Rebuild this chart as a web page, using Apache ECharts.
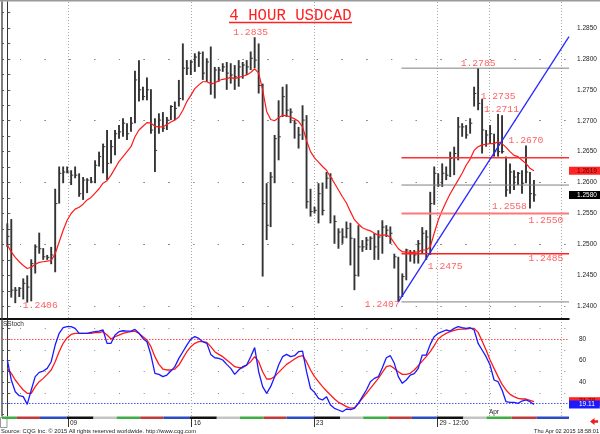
<!DOCTYPE html>
<html><head><meta charset="utf-8">
<script src="https://cdn.jsdelivr.net/npm/echarts@6.0.0/dist/echarts.min.js"></script>
<style>html,body{margin:0;padding:0;background:#fff}#c{width:600px;height:434px}</style>
</head><body><div id="c"></div>
<script>
// ---- data (4-hour bars, index 0 = first bar) ----
const highs = [1.2534,1.2541,1.2431,1.2431,1.2445,1.2450,1.2476,1.2500,1.2519,1.2494,1.2483,1.2496,1.2590,1.2626,1.2626,1.2626,1.2620,1.2626,1.2615,1.2609,1.2607,1.2609,1.2636,1.2650,1.2663,1.2685,1.2669,1.2685,1.2693,1.2704,1.2696,1.2706,1.2781,1.2798,1.2755,1.2770,1.2751,1.2704,1.2712,1.2714,1.2706,1.2725,1.2731,1.2766,1.2825,1.2798,1.2798,1.2809,1.2812,1.2812,1.2801,1.2820,1.2787,1.2787,1.2793,1.2795,1.2793,1.2790,1.2798,1.2795,1.2798,1.2812,1.2835,1.2825,1.2760,1.2599,1.2617,1.2677,1.2733,1.2755,1.2759,1.2720,1.2701,1.2690,1.2725,1.2709,1.2590,1.2561,1.2599,1.2600,1.2617,1.2615,1.2547,1.2526,1.2526,1.2537,1.2535,1.2510,1.2531,1.2507,1.2512,1.2513,1.2518,1.2523,1.2539,1.2531,1.2529,1.2485,1.2480,1.2453,1.2493,1.2491,1.2491,1.2507,1.2528,1.2523,1.2585,1.2626,1.2615,1.2631,1.2626,1.2650,1.2658,1.2706,1.2696,1.2693,1.2704,1.2755,1.2785,1.2735,1.2685,1.2693,1.2679,1.2711,1.2709,1.2642,1.2631,1.2620,1.2617,1.2620,1.2660,1.2617,1.2604];
const lows = [1.2496,1.2414,1.2405,1.2415,1.2411,1.2406,1.2408,1.2453,1.2485,1.2475,1.2475,1.2468,1.2455,1.2566,1.2599,1.2615,1.2596,1.2607,1.2577,1.2572,1.2583,1.2599,1.2599,1.2626,1.2615,1.2604,1.2631,1.2644,1.2671,1.2674,1.2669,1.2682,1.2696,1.2731,1.2733,1.2733,1.2679,1.2617,1.2679,1.2682,1.2685,1.2701,1.2701,1.2723,1.2733,1.2774,1.2774,1.2779,1.2787,1.2766,1.2763,1.2742,1.2736,1.2763,1.2779,1.2750,1.2760,1.2750,1.2755,1.2768,1.2774,1.2782,1.2785,1.2744,1.2448,1.2507,1.2528,1.2599,1.2636,1.2706,1.2706,1.2696,1.2671,1.2655,1.2669,1.2558,1.2545,1.2550,1.2534,1.2547,1.2590,1.2534,1.2501,1.2493,1.2501,1.2510,1.2466,1.2426,1.2448,1.2488,1.2491,1.2491,1.2475,1.2475,1.2485,1.2512,1.2501,1.2461,1.2407,1.2415,1.2442,1.2472,1.2469,1.2469,1.2485,1.2475,1.2483,1.2564,1.2593,1.2593,1.2604,1.2609,1.2612,1.2636,1.2674,1.2671,1.2679,1.2723,1.2717,1.2647,1.2658,1.2663,1.2642,1.2642,1.2647,1.2577,1.2582,1.2588,1.2596,1.2582,1.2599,1.2558,1.2569];
const closes = [1.2513,1.2426,1.2426,1.2429,1.2437,1.2431,1.2469,1.2496,1.2493,1.2480,1.2479,1.2483,1.2566,1.2615,1.2617,1.2617,1.2612,1.2612,1.2582,1.2604,1.2604,1.2601,1.2628,1.2642,1.2658,1.2631,1.2658,1.2679,1.2682,1.2696,1.2679,1.2696,1.2766,1.2750,1.2739,1.2750,1.2685,1.2652,1.2701,1.2688,1.2701,1.2723,1.2720,1.2736,1.2785,1.2785,1.2795,1.2803,1.2809,1.2777,1.2795,1.2760,1.2782,1.2782,1.2787,1.2777,1.2774,1.2771,1.2787,1.2790,1.2787,1.2801,1.2798,1.2757,1.2566,1.2531,1.2609,1.2671,1.2674,1.2739,1.2717,1.2714,1.2696,1.2677,1.2701,1.2569,1.2553,1.2555,1.2582,1.2555,1.2607,1.2607,1.2537,1.2520,1.2512,1.2526,1.2510,1.2450,1.2496,1.2496,1.2507,1.2510,1.2496,1.2512,1.2528,1.2523,1.2518,1.2480,1.2415,1.2448,1.2491,1.2485,1.2483,1.2501,1.2518,1.2512,1.2566,1.2615,1.2596,1.2615,1.2612,1.2639,1.2647,1.2690,1.2690,1.2677,1.2696,1.2744,1.2728,1.2685,1.2677,1.2679,1.2650,1.2650,1.2650,1.2588,1.2617,1.2609,1.2615,1.2599,1.2617,1.2582,1.2580];
const movingAvg = [1.2499,1.2488,1.2479,1.2472,1.2466,1.2461,1.2463,1.2468,1.2471,1.2472,1.2473,1.2474,1.2485,1.2504,1.2523,1.2539,1.2550,1.2557,1.2560,1.2565,1.2572,1.2576,1.2583,1.2590,1.2599,1.2603,1.2612,1.2623,1.2634,1.2642,1.2650,1.2658,1.2674,1.2685,1.2691,1.2697,1.2696,1.2691,1.2690,1.2690,1.2694,1.2698,1.2701,1.2706,1.2717,1.2731,1.2741,1.2752,1.2758,1.2763,1.2763,1.2760,1.2761,1.2765,1.2767,1.2768,1.2770,1.2768,1.2770,1.2772,1.2774,1.2778,1.2784,1.2777,1.2750,1.2715,1.2702,1.2700,1.2705,1.2709,1.2708,1.2706,1.2703,1.2699,1.2690,1.2668,1.2650,1.2640,1.2633,1.2626,1.2620,1.2609,1.2599,1.2588,1.2577,1.2567,1.2553,1.2540,1.2533,1.2527,1.2524,1.2522,1.2518,1.2515,1.2515,1.2515,1.2512,1.2502,1.2493,1.2488,1.2488,1.2487,1.2487,1.2488,1.2491,1.2491,1.2496,1.2518,1.2539,1.2555,1.2569,1.2582,1.2593,1.2604,1.2615,1.2628,1.2638,1.2652,1.2658,1.2661,1.2662,1.2663,1.2663,1.2666,1.2663,1.2657,1.2650,1.2644,1.2642,1.2636,1.2631,1.2623,1.2619];
const stochK = [60.5,41.9,31.0,27.3,26.4,19.2,32.6,45.0,49.0,50.2,52.7,58.9,74.4,85.3,90.5,91.5,91.5,89.9,85.3,85.3,85.3,86.2,86.8,87.4,88.4,76.0,76.0,83.7,86.8,87.7,87.4,87.4,89.0,85.3,80.6,77.5,65.1,48.1,47.1,45.0,46.5,50.2,54.3,62.0,68.2,74.4,80.0,82.2,80.6,77.5,76.0,65.7,62.6,62.0,60.5,56.4,52.7,47.1,51.2,54.3,55.8,63.6,72.0,49.6,35.7,29.5,35.7,45.0,55.8,63.6,65.7,63.6,64.5,68.2,68.8,49.6,34.0,30.4,24.8,23.3,26.4,18.6,15.5,14.0,12.4,14.9,14.3,15.5,20.2,26.4,32.6,40.3,43.4,45.0,53.3,62.6,64.5,57.4,45.0,38.8,41.9,46.5,47.8,52.7,65.1,65.1,75.0,82.2,85.3,86.8,88.4,87.4,89.9,91.5,90.5,89.9,90.5,88.4,76.0,69.8,63.6,55.8,41.9,40.3,32.6,21.7,21.1,21.1,20.2,22.3,23.3,21.7,19.11];
const stochD = [52.7,48.1,41.9,37.2,32.6,29.5,29.5,35.7,40.3,43.4,47.1,51.2,58.9,68.2,76.0,81.2,84.3,85.3,85.3,85.3,85.3,85.3,85.9,85.9,86.8,83.7,80.0,82.2,83.7,85.3,86.2,86.8,87.4,85.3,82.2,79.1,72.9,63.6,56.4,52.1,51.2,51.2,52.1,55.8,62.0,68.2,72.9,76.0,77.5,77.5,76.9,72.9,68.2,65.7,63.6,60.5,57.4,54.3,53.3,53.3,55.8,58.9,63.6,58.9,49.6,42.8,42.8,45.0,49.0,52.7,56.4,58.9,61.4,63.6,64.5,58.9,51.2,45.0,40.3,35.7,31.6,27.9,24.2,21.1,19.2,17.1,15.8,16.1,20.2,24.8,29.5,34.1,38.8,43.4,49.0,54.3,55.2,52.7,49.6,47.1,47.1,48.1,51.2,55.2,59.5,63.6,68.2,73.8,80.0,83.1,85.3,86.8,88.1,89.0,89.3,89.3,89.9,89.9,86.2,78.1,69.8,60.5,52.7,45.0,37.8,32.6,28.5,26.4,24.8,24.2,24.2,23.0,21.7];

// support / resistance levels, drawn from the 1.2407 low to the right edge
const levelValues = [1.2785, 1.2640, 1.2596, 1.2550, 1.2485, 1.2407];
const levelStartIdx = 98.8;
// blue trend line: anchor points (bar index, price)
const trendIdx = [98, 140.78];
const trendVal = [1.2407, 1.2836];

// price annotations
const annoTexts = ['1.2835','1.2406','1.2407','1.2785','1.2735','1.2711','1.2670','1.2558','1.2550','1.2485','1.2475'];
const annoIdx   = [62, 5, 98, 118, 119, 123, 130, 131, 135, 135, 105];
const annoVals  = [1.2835, 1.2406, 1.2407, 1.2785, 1.2735, 1.2711, 1.2670, 1.2558, 1.2550, 1.2485, 1.2475];

// axis ticks
const priceTicks = [1.2400,1.2450,1.2500,1.2550,1.2600,1.2650,1.2700,1.2750,1.2800,1.2850];
const priceGridLevels = [1.2400,1.2425,1.2450,1.2475,1.2500,1.2525,1.2550,1.2575,1.2600,1.2625,1.2650,1.2675,1.2700,1.2725,1.2750,1.2775,1.2800,1.2825,1.2850,1.2875];
const stochTicks = [40, 60, 80];
const stochGridLevels = [30, 50, 70, 90];
const weekLineIdx = [15.2, 46.2, 76.9, 107.8, 120.7, 138.9];
const dateTickIdx = [15.2, 46.2, 76.9, 107.8];
const dateTickLabels = ['09', '16', '23', '29 - 12:00'];
const monthTickIdx = [120.7];
const monthTickLabels = ['Apr'];
// session colour strip (start index, end index, weekday code)
const stripStart = [-1.33,2.4,8.2,14.9,21.6,27.4,33.3,39.1,45.8,52.5,58.3,64.2,70.0,76.7,83.4,89.2,95.5,101.4,107.6,114.3,120.1,126.4,132.7];
const stripEnd   = [2.4,8.2,14.9,21.6,27.4,33.3,39.1,45.8,52.5,58.3,64.2,70.0,76.7,83.4,89.2,95.5,101.4,107.6,114.3,120.1,126.4,132.7,140.78];
const stripDay   = [0,1,2,3,4,0,1,2,3,4,0,1,2,3,4,0,1,2,3,4,0,1,2];

// ---- styles ----
const XMIN = -1.328, XMAX = 140.78;
const levelStyles = [
  {color:'#808080', width:1}, {color:'#ff3030', width:1.5}, {color:'#808080', width:1},
  {color:'#ff7878', width:2}, {color:'#ff2020', width:1.5}, {color:'#808080', width:1}
];
const annoOffsets = [[-4,-4.5],[13,2.5],[-16,3],[0,-5],[16,-3],[3.5,-4.3],[0,0.7],[-20.5,-2],[0,7],[0,5],[19,6.6]];
const stripPalette = ['#3cae45', '#c33a3a', '#2a4cc8', '#111111', '#c4c4c4'];
const LAB = {fontFamily:'Liberation Sans', fontSize:6.5, color:'#222'};

const lastClose = closes[closes.length-1];
const lastMA = movingAvg[movingAvg.length-1];
const lastK = stochK[stochK.length-1];
const lastD = stochD[stochD.length-1];

function near(a,b){return Math.abs(a-b) < 1e-7;}

const chart = echarts.init(document.getElementById('c'), null, {renderer:'canvas'});

function renderBar(params, api){
  const i = api.value(0);
  const top = api.coord([i, api.value(1)]);
  const bot = api.coord([i, api.value(2)]);
  const cl = api.coord([i, api.value(3)]);
  return {type:'group', children:[
    {type:'line', shape:{x1:top[0], y1:top[1], x2:bot[0], y2:bot[1]}, style:{stroke:'#343434', lineWidth:1.9}},
    {type:'line', shape:{x1:cl[0], y1:cl[1], x2:cl[0]+2.2, y2:cl[1]}, style:{stroke:'#343434', lineWidth:1}}
  ]};
}
function renderStrip(params, api){
  const a = api.coord([api.value(0), 1]);
  const b = api.coord([api.value(1), 0]);
  return {type:'rect', shape:{x:a[0], y:a[1], width:b[0]-a[0], height:b[1]-a[1]}, style:{fill: stripPalette[stripDay[params.dataIndex]]}};
}

const hidden = {axisLine:{show:false}, axisTick:{show:false}, axisLabel:{show:false}, splitLine:{show:false}};

const series = [];
series.push({
  type:'line', xAxisIndex:0, yAxisIndex:0, data:movingAvg.map((v,i)=>[i,v]), showSymbol:false, z:3,
  lineStyle:{color:'#ff1a1a', width:1.2}, silent:true,
  markLine:{symbol:'none', silent:true, z:1, label:{show:false}, animation:false,
    data: priceGridLevels.map(v=>({yAxis:v, lineStyle:{color:'#8a8a8a', width:1, type:[1,23.74], dashOffset:6.74}}))
      .concat(weekLineIdx.map(v=>({xAxis:v, lineStyle:{color:'#a8a8a8', width:1, type:[1,2]}})))
  }
});
series.push({type:'custom', xAxisIndex:0, yAxisIndex:0, renderItem:renderBar, z:2,
  data: highs.map((h,i)=>[i, h, lows[i], closes[i]]), encode:{x:0, y:[1,2,3]}, silent:true});
levelValues.forEach((v,k)=>{
  series.push({type:'line', xAxisIndex:0, yAxisIndex:0, showSymbol:false, silent:true, z:4,
    data:[[levelStartIdx, v],[XMAX, v]], lineStyle:{color:levelStyles[k].color, width:levelStyles[k].width}});
});
series.push({type:'line', xAxisIndex:0, yAxisIndex:0, showSymbol:false, silent:true, z:5,
  data: trendIdx.map((x,i)=>[x, trendVal[i]]), lineStyle:{color:'#2828ff', width:1.3}});
series.push({type:'scatter', xAxisIndex:0, yAxisIndex:0, symbolSize:0, silent:true, z:10,
  data: annoTexts.map((t,i)=>({name:t, value:[annoIdx[i], annoVals[i]], label:{offset:annoOffsets[i]}})),
  label:{show:true, position:'inside', formatter:p=>p.name, fontFamily:'Liberation Mono', fontSize:9.7, color:'#ff3a3a'}});
// stochastic
series.push({type:'line', xAxisIndex:1, yAxisIndex:2, showSymbol:false, silent:true, z:4,
  data: stochD.map((v,i)=>[i,v]), lineStyle:{color:'#ff1a1a', width:1.3},
  markLine:{symbol:'none', silent:true, z:1, label:{show:false}, animation:false,
    data:[{yAxis:80, lineStyle:{color:'#ff5050', width:1, type:[1.5,1.5]}},
          {yAxis:20, lineStyle:{color:'#5050ff', width:1, type:[1.5,1.5]}}]
      .concat(stochGridLevels.map(v=>({yAxis:v, lineStyle:{color:'#8a8a8a', width:1, type:[1,23.74], dashOffset:6.74}})))
      .concat(weekLineIdx.map(v=>({xAxis:v, lineStyle:{color:'#a8a8a8', width:1, type:[1,2]}})))
  }});
series.push({type:'line', xAxisIndex:1, yAxisIndex:2, showSymbol:false, silent:true, z:5,
  data: stochK.map((v,i)=>[i,v]), lineStyle:{color:'#1a1aff', width:1.3}});
series.push({type:'custom', xAxisIndex:2, yAxisIndex:4, renderItem:renderStrip, silent:true,
  data: stripStart.map((s,i)=>[s, stripEnd[i]]), encode:{x:[0,1]}});

const option = {
  animation:false,
  backgroundColor:'#fff',
  grid:[
    {left:2, right:31, top:2, height:316, outerBoundsMode:'none'},
    {left:2, right:31, top:320, height:96, outerBoundsMode:'none'},
    {left:2, right:31, top:416.5, height:2.5, outerBoundsMode:'none'}
  ],
  xAxis:[
    Object.assign({type:'value', gridIndex:0, min:XMIN, max:XMAX}, hidden),
    {type:'value', gridIndex:1, min:XMIN, max:XMAX, axisLine:{show:false}, splitLine:{show:false},
      axisTick:{show:false},
      axisLabel:{show:true, inside:true, margin:0, customValues:monthTickIdx, align:'left',
        formatter:v=>monthTickLabels[monthTickIdx.indexOf(v)] || '', ...LAB}},
    {type:'value', gridIndex:2, min:XMIN, max:XMAX, axisLine:{show:false}, splitLine:{show:false},
      axisTick:{show:true, length:8, customValues:dateTickIdx, lineStyle:{color:'#333', width:1}},
      axisLabel:{show:true, margin:1, customValues:dateTickIdx, align:'left', padding:[0,0,0,2],
        formatter:v=>{let k=0; dateTickIdx.forEach((d,i)=>{if(Math.abs(d-v)<Math.abs(dateTickIdx[k]-v))k=i;}); return dateTickLabels[k];}, ...LAB}}
  ],
  yAxis:[
    {type:'value', gridIndex:0, position:'right', min:1.2381, max:1.2892,
      axisLine:{show:true, lineStyle:{color:'#333', width:1}},
      axisTick:{show:true, length:3, customValues:priceGridLevels, lineStyle:{color:'#555'}},
      splitLine:{show:false},
      axisLabel:{show:true, margin:0, customValues:priceTicks.concat([lastMA, lastClose]),
        formatter:v=>{ if(near(v,lastMA)) return '{ma|'+v.toFixed(4)+'}'; if(near(v,lastClose)) return '{cl|'+v.toFixed(4)+'}'; return '{n|'+v.toFixed(4)+'}'; },
        rich:{
          n:{...LAB, padding:[0,0,0,8]},
          ma:{...LAB, color:'#500', backgroundColor:'#ff2424', padding:[0.5,5,0.5,8]},
          cl:{...LAB, color:'#fff', backgroundColor:'#000', padding:[0.5,5,0.5,8]}
        }}},
    {type:'value', gridIndex:0, position:'left', min:1.2381, max:1.2892,
      axisLine:{show:true, lineStyle:{color:'#555', width:1.5}},
      axisTick:{show:true, inside:true, length:2, customValues:priceGridLevels, lineStyle:{color:'#555'}},
      axisLabel:{show:false}, splitLine:{show:false}},
    {type:'value', gridIndex:1, position:'right', min:8.4, max:97.7,
      axisLine:{show:true, lineStyle:{color:'#333', width:1}},
      axisTick:{show:true, length:3, customValues:[20,30,40,50,60,70,80,90], lineStyle:{color:'#555'}},
      splitLine:{show:false},
      axisLabel:{show:true, margin:0, customValues:stochTicks.concat([lastD]),
        formatter:v=>{ if(near(v,lastD)) return '{d|'+v.toFixed(2)+'}'; return '{n|'+Math.round(v)+'}'; },
        rich:{
          n:{...LAB, padding:[0,0,0,10]},
          d:{...LAB, color:'#500', backgroundColor:'#ff2424', padding:[1,5,1,10]}
        }}},
    {type:'value', gridIndex:1, position:'left', min:8.4, max:97.7,
      axisLine:{show:true, lineStyle:{color:'#555', width:1.5}},
      axisTick:{show:true, inside:true, length:2, customValues:[10,20,30,40,50,60,70,80,90], lineStyle:{color:'#555'}},
      axisLabel:{show:false}, splitLine:{show:false}},
    Object.assign({type:'value', gridIndex:2, min:0, max:1}, hidden),
    {type:'value', gridIndex:1, position:'right', min:8.4, max:97.7,
      axisLine:{show:false}, axisTick:{show:false}, splitLine:{show:false},
      axisLabel:{show:true, margin:0, customValues:[lastK],
        formatter:v=>'{k|'+v.toFixed(2)+'}',
        rich:{ k:{...LAB, color:'#fff', backgroundColor:'#1a1aff', padding:[0,5,1,10]} }}}
  ],
  series: series,
  graphic:[
    {type:'line', shape:{x1:0, y1:0.8, x2:600, y2:0.8}, style:{stroke:'#9a9a9a', lineWidth:1.6}, silent:true},
    {type:'line', shape:{x1:0, y1:319, x2:569.5, y2:319}, style:{stroke:'#111', lineWidth:2.2}, silent:true},
    {type:'text', x:290.5, y:16, style:{text:'4 HOUR USDCAD', fill:'#ff2020', font:'15.7px "Liberation Mono"', align:'center', verticalAlign:'middle'}, silent:true},
    {type:'line', shape:{x1:229, y1:22.5, x2:352, y2:22.5}, style:{stroke:'#ff2020', lineWidth:1.3}, silent:true},
    {type:'text', x:3, y:324, style:{text:'SStoch', fill:'#333', font:'6.5px "Liberation Sans"', verticalAlign:'middle'}, silent:true},
    {type:'rect', shape:{x:0.5, y:417.5, width:6.5, height:10}, style:{fill:'#fff', stroke:'#999', lineWidth:1}, silent:true},
    {type:'text', x:1, y:431, style:{text:'Source: CQG Inc. \u00a9 2015 All rights reserved worldwide. http://www.cqg.com', fill:'#222', font:'5.8px "Liberation Sans"', verticalAlign:'middle'}, silent:true},
    {type:'text', x:599, y:431, style:{text:'Thu Apr 02 2015 18:58:01', fill:'#222', font:'5.6px "Liberation Sans"', align:'right', verticalAlign:'middle'}, silent:true},
    {type:'polygon', shape:{points:[[590,421.5],[594.5,418],[594.5,420.3],[598,420.3],[598,422.7],[594.5,422.7],[594.5,425]]}, style:{fill:'#ee1c1c'}, silent:true}
  ]
};
chart.setOption(option);
</script></body></html>
